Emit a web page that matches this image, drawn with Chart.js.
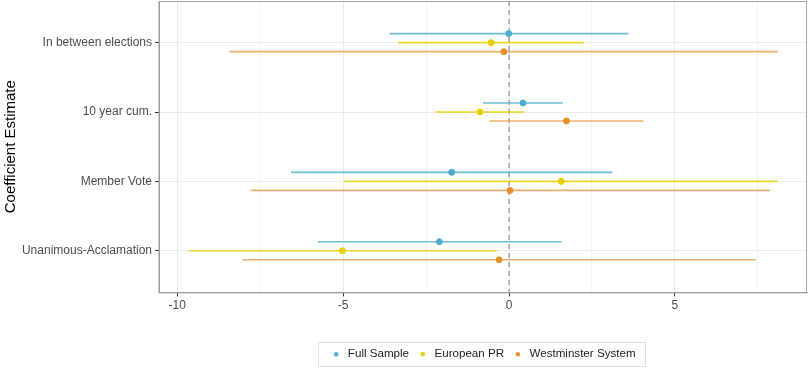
<!DOCTYPE html>
<html>
<head>
<meta charset="utf-8">
<script src="https://cdn.jsdelivr.net/npm/chart.js@4"></script>
<style>
  html, body { margin: 0; padding: 0; background: #fff; }
  #wrap { width: 808px; height: 371px; }
</style>
</head>
<body>
<div id="wrap"><canvas id="coefChart" width="808" height="371"></canvas></div>
<script>
// categories bottom -> top (y = 1..4)
const categories = ["Unanimous-Acclamation", "Member Vote", "10 year cum.", "In between elections"];
const seriesNames = ["Full Sample", "European PR", "Westminster System"];

const fullEst = [-2.10, -1.73, 0.42, -0.01];
const fullLo  = [-5.76, -6.57, -0.78, -3.60];
const fullHi  = [ 1.58,  3.12,  1.62,  3.60];

const euEst = [-5.02,  1.57, -0.88, -0.54];
const euLo  = [-9.66, -4.97, -2.22, -3.34];
const euHi  = [-0.37,  8.09,  0.46,  2.26];

const westEst = [-0.30,  0.03,  1.73, -0.16];
const westLo  = [-8.04, -7.79, -0.59, -8.42];
const westHi  = [ 7.44,  7.86,  4.05,  8.11];

const xTicks = [-10, -7.5, -5, -2.5, 0, 2.5, 5, 7.5];

const pointColors = ["#4aaed0", "#e5d000", "#e5902a"];
const lineColors = ["rgba(74,174,208,0.8)", "rgba(229,208,0,0.85)", "rgba(232,150,60,0.75)"];
const dodge = [0.13, 0, -0.13];

const est = [fullEst, euEst, westEst];
const lo = [fullLo, euLo, westLo];
const hi = [fullHi, euHi, westHi];

const font = "'Liberation Sans', Arial, sans-serif";
const datasets = [];

// points first so they sit on top and lead the legend
seriesNames.forEach((name, s) => {
  datasets.push({
    type: "scatter",
    label: name,
    data: categories.map((c, i) => ({ x: est[s][i], y: i + 1 + dodge[s] })),
    backgroundColor: pointColors[s],
    borderColor: pointColors[s],
    pointRadius: 3,
    pointHoverRadius: 3
  });
});

// interval lines
seriesNames.forEach((name, s) => {
  categories.forEach((c, i) => {
    datasets.push({
      type: "line",
      label: "_ci",
      data: [
        { x: lo[s][i], y: i + 1 + dodge[s] },
        { x: hi[s][i], y: i + 1 + dodge[s] }
      ],
      borderColor: lineColors[s],
      borderWidth: 1.6,
      pointRadius: 0,
      fill: false
    });
  });
});

// small legend dot as an image
function dot(color) {
  const c = document.createElement("canvas");
  c.width = 6; c.height = 6;
  const g = c.getContext("2d");
  g.fillStyle = color;
  g.beginPath();
  g.arc(3, 3, 2.3, 0, Math.PI * 2);
  g.fill();
  return c;
}

const panelExtras = {
  id: "panelExtras",
  beforeDatasetsDraw(chart) {
    const { ctx, chartArea, scales } = chart;
    ctx.save();
    // dashed zero line
    const x0 = scales.x.getPixelForValue(0);
    ctx.strokeStyle = "#9a9a9a";
    ctx.lineWidth = 1.3;
    ctx.setLineDash([5, 4]);
    ctx.beginPath();
    ctx.moveTo(x0, chartArea.top);
    ctx.lineTo(x0, chartArea.bottom);
    ctx.stroke();
    ctx.setLineDash([]);
    // panel border
    ctx.strokeStyle = "#a8a8a8";
    ctx.lineWidth = 1;
    ctx.strokeRect(chartArea.left, chartArea.top + 0.5, chartArea.right - chartArea.left - 0.5, chartArea.bottom - chartArea.top);
    ctx.restore();
  },
  afterDraw(chart) {
    // box around the legend items only
    const boxes = chart.legend.legendHitBoxes;
    if (!boxes || !boxes.length) return;
    const first = boxes[0], last = boxes[boxes.length - 1];
    const ctx = chart.ctx;
    ctx.save();
    ctx.strokeStyle = "#dedede";
    ctx.lineWidth = 1;
    const l = first.left - 12, r = last.left + last.width + 10;
    const t = first.top - 6, b = first.top + first.height + 6;
    ctx.strokeRect(Math.round(l) + 0.5, Math.round(t) + 0.5, Math.round(r - l), Math.round(b - t));
    ctx.restore();
  }
};

new Chart(document.getElementById("coefChart"), {
  type: "scatter",
  data: { datasets: datasets },
  options: {
    responsive: false,
    animation: false,
    layout: { autoPadding: false, padding: { left: 0, right: 1, top: 1, bottom: 1 } },
    plugins: {
      tooltip: { enabled: false },
      legend: {
        position: "bottom",
        fullSize: false,
        labels: {
          filter: item => item.text !== "_ci",
          generateLabels: chart => {
            const items = Chart.defaults.plugins.legend.labels.generateLabels(chart);
            items.forEach(it => {
              const s = seriesNames.indexOf(it.text);
              if (s >= 0) it.pointStyle = dot(pointColors[s]);
            });
            return items;
          },
          usePointStyle: true,
          boxWidth: 12,
          boxHeight: 12,
          padding: 8,
          color: "#222",
          font: { family: font, size: 11.6 }
        }
      }
    },
    scales: {
      x: {
        type: "linear",
        min: -10.55,
        max: 8.98,
        afterBuildTicks: scale => {
          scale.ticks = xTicks.map(v => ({ value: v }));
        },
        afterFit: scale => {
          scale.height = 48;
          scale.paddingLeft = 0; scale.paddingRight = 0;
        },
        ticks: {
          color: "#4d4d4d",
          padding: 2,
          maxRotation: 0,
          font: { family: font, size: 12 },
          callback: v => (v % 5 === 0 ? String(v) : "")
        },
        grid: {
          color: ctx => (ctx.tick && ctx.tick.value % 5 === 0 ? "#ebebeb" : "#f2f2f2"),
          lineWidth: ctx => (ctx.tick && ctx.tick.value % 5 === 0 ? 1 : 0.8),
          tickColor: ctx => (ctx.tick && ctx.tick.value % 5 === 0 ? "#333" : "rgba(0,0,0,0)"),
          tickLength: 4
        },
        border: { color: "#8c8c8c", width: 1 }
      },
      y: {
        type: "linear",
        min: 0.4,
        max: 4.6,
        afterBuildTicks: scale => {
          scale.ticks = categories.map((c, i) => ({ value: i + 1 }));
        },
        afterFit: scale => {
          scale.width = 159;
          scale.paddingTop = 0; scale.paddingBottom = 0;
        },
        ticks: {
          color: "#4d4d4d",
          padding: 3,
          font: { family: font, size: 12 },
          callback: v => categories[v - 1]
        },
        title: {
          display: true,
          text: "Coefficient Estimate",
          color: "#000",
          padding: { top: 2, bottom: 0 },
          font: { family: font, size: 15 }
        },
        grid: {
          color: "#ebebeb",
          tickColor: "#333",
          tickLength: 4
        },
        border: { color: "#8c8c8c", width: 1 }
      }
    }
  },
  plugins: [panelExtras]
});
</script>
</body>
</html>
